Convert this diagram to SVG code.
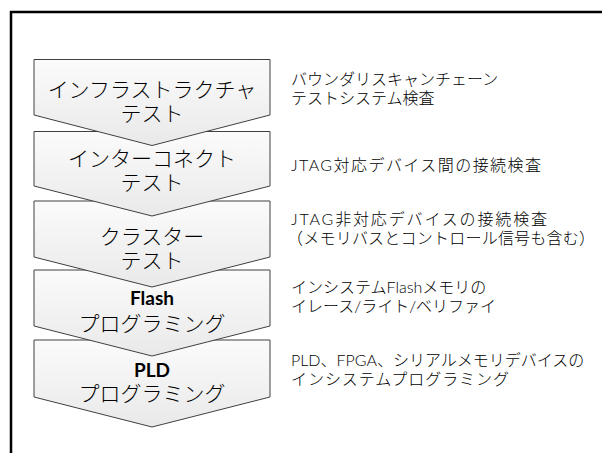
<svg xmlns="http://www.w3.org/2000/svg" width="602" height="453" viewBox="0 0 602 453">
<defs>
<linearGradient id="g" x1="0" y1="0" x2="0" y2="1">
<stop offset="0" stop-color="#fbfbfb"/>
<stop offset="1" stop-color="#e9e9e9"/>
</linearGradient>
<style>
.sh{fill:url(#g);stroke:#404040;stroke-width:1}
.jp{font-family:"Noto Sans CJK JP",sans-serif;font-weight:300;fill:#000}
.t{font-size:21px;text-anchor:middle}
.b{font-family:"Lato","Noto Sans CJK JP",sans-serif;font-weight:bold;font-size:19px;text-anchor:middle;fill:#000}
.d{font-family:"Lato","Noto Sans CJK JP",sans-serif;font-weight:300;font-size:16px;fill:#000}
</style>
</defs>
<rect width="602" height="453" fill="#fff"/>
<path d="M11 453 V12 H602" fill="none" stroke="#000" stroke-width="2.5"/>
<g id="connectors"></g>
<g id="step5">
<path class="sh" d="M34 340 H270 V397 L152 427 L34 397 Z"/>
<text class="b" x="152" y="377">PLD</text>
<text class="jp t" x="152" y="401">プログラミング</text>
</g>
<g id="step4">
<path class="sh" d="M34 270 H270 V326 L152 356 L34 326 Z"/>
<text class="b" x="152" y="305">Flash</text>
<text class="jp t" x="152" y="331">プログラミング</text>
</g>
<g id="step3">
<path class="sh" d="M34 201 H270 V257 L152 287 L34 257 Z"/>
<text class="jp t" x="152" y="244">クラスター</text>
<text class="jp t" x="152" y="268">テスト</text>
</g>
<g id="step2">
<path class="sh" d="M34 131.5 H270 V186 L152 216 L34 186 Z"/>
<text class="jp t" x="152" y="166">インターコネクト</text>
<text class="jp t" x="152" y="190">テスト</text>
</g>
<g id="step1">
<path class="sh" d="M34 59.5 H270 V115 L152 145.5 L34 115 Z"/>
<text class="jp t" x="152" y="97">インフラストラクチャ</text>
<text class="jp t" x="152" y="121">テスト</text>
</g>
<g id="desc1">
<text class="d" x="291" y="85">バウンダリスキャンチェーン</text>
<text class="d" x="291" y="103.5">テストシステム検査</text>
</g>
<g id="desc2">
<text class="d" x="291" y="171" textLength="250" lengthAdjust="spacing">JTAG対応デバイス間の接続検査</text>
</g>
<g id="desc3">
<text class="d" x="291" y="225" textLength="256" lengthAdjust="spacing">JTAG非対応デバイスの接続検査</text>
<text class="d" x="287" y="243.5" textLength="308" lengthAdjust="spacing">（メモリバスとコントロール信号も含む）</text>
</g>
<g id="desc4">
<text class="d" x="291" y="293">インシステムFlashメモリの</text>
<text class="d" x="291" y="311.5">イレース/ライト/ベリファイ</text>
</g>
<g id="desc5">
<text class="d" x="291" y="366">PLD、FPGA、シリアルメモリデバイスの</text>
<text class="d" x="291" y="384.5" textLength="218" lengthAdjust="spacing">インシステムプログラミング</text>
</g>
</svg>
